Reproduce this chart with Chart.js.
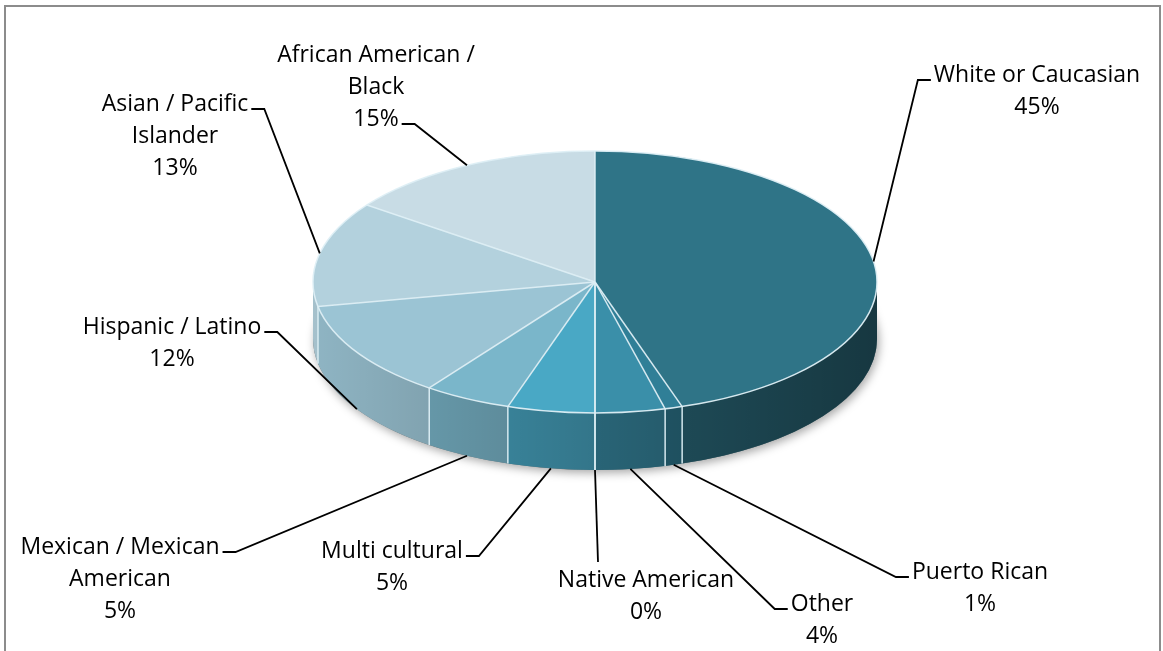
<!DOCTYPE html>
<html>
<head>
<meta charset="utf-8">
<title>Ethnicity</title>
<script src="https://cdn.jsdelivr.net/npm/chart.js@4.4.1/dist/chart.umd.min.js"></script>
<style>
    html, body { margin: 0; padding: 0; background: #fff; }
    #wrap { position: relative; width: 1163px; height: 651px; overflow: hidden; }
    #frame { position: absolute; left: 4px; top: 5px; width: 1153px; height: 700px; border: 2px solid #8c8c8c; border-bottom: none; }
    canvas { position: absolute; left: 0; top: 0; }
</style>
</head>
<body>
<div id="wrap">
    <div id="frame"></div>
    <canvas id="pieChart" width="1163" height="651"></canvas>
</div>
<script>
// Ethnicity breakdown, clockwise from 12 o'clock
const categories = [
    'White or Caucasian',
    'Puerto Rican',
    'Other',
    'Native American',
    'Multi cultural',
    'Mexican / Mexican American',
    'Hispanic / Latino',
    'Asian / Pacific Islander',
    'African American / Black'
];
const percentages = [45, 1, 4, 0, 5, 5, 12, 13, 15];
const sliceColors = ['#2f7487', '#307f97', '#3a8fa9', '#4299b5', '#49a8c5', '#7ab6ca', '#9bc4d4', '#b3d1dd', '#c8dce5'];

// label placement: text centre of first line, wrap width,
// which side / line the leader tick attaches to
const labelLayout = [
    { x: 1037, y: 75,  wrap: 260, side: 'left',  line: 0 },
    { x: 980,  y: 572, wrap: 200, side: 'left',  line: 0 },
    { x: 822,  y: 604, wrap: 200, side: 'left',  line: 0 },
    { x: 646,  y: 580, wrap: 240, side: 'none',  line: 0, ex: 598, ey: 562 },
    { x: 392,  y: 551, wrap: 200, side: 'right', line: 0 },
    { x: 120,  y: 547, wrap: 225, side: 'right', line: 0 },
    { x: 172,  y: 327, wrap: 240, side: 'right', line: 0 },
    { x: 175,  y: 104, wrap: 180, side: 'right', line: 0 },
    { x: 376,  y: 55,  wrap: 230, side: 'right', line: 2 }
];

const tilt = 131 / 282;   // vertical squash of the top face
const depth = 57;         // thickness of the pie
const edgeColor = 'rgba(222, 239, 246, 0.95)';
const labelFont = '23px "Open Sans"';
const lineGap = 32;
const tickLen = 13;

function wrapText(ctx, text, maxWidth) {
    const words = text.split(' ');
    const lines = [];
    let cur = '';
    words.forEach(w => {
        const test = cur ? cur + ' ' + w : w;
        if (cur && ctx.measureText(test).width > maxWidth) {
            lines.push(cur);
            cur = w;
        } else {
            cur = test;
        }
    });
    lines.push(cur);
    return lines;
}

const pie3d = {
    id: 'pie3d',
    beforeDatasetsDraw(chart) {
        const ctx = chart.ctx;
        const arcs = chart.getDatasetMeta(0).data;
        const { x, y, outerRadius: rx } = arcs[0];
        const ry = rx * tilt;

        // soft shadow under the base
        ctx.save();
        ctx.shadowColor = 'rgba(0,0,0,0.35)';
        ctx.shadowBlur = 10;
        ctx.shadowOffsetX = 2;
        ctx.shadowOffsetY = 3;
        ctx.fillStyle = '#6d6d6d';
        ctx.beginPath();
        ctx.ellipse(x, y + depth, rx, ry, 0, 0, Math.PI * 2);
        ctx.fill();
        ctx.restore();

        // front walls, darker towards the right
        const shade = ctx.createLinearGradient(x - rx, 0, x + rx, 0);
        shade.addColorStop(0, 'rgba(0,0,0,0.08)');
        shade.addColorStop(1, 'rgba(0,0,0,0.52)');
        arcs.forEach((arc, i) => {
            const a1 = Math.max(arc.startAngle, 0);
            const a2 = Math.min(arc.endAngle, Math.PI);
            if (a2 <= a1) return;
            ctx.beginPath();
            ctx.ellipse(x, y, rx, ry, 0, a1, a2);
            ctx.ellipse(x, y + depth, rx, ry, 0, a2, a1, true);
            ctx.closePath();
            ctx.fillStyle = sliceColors[i];
            ctx.fill();
            ctx.fillStyle = shade;
            ctx.fill();
        });

        // wall seams
        ctx.strokeStyle = edgeColor;
        ctx.lineWidth = 1.5;
        arcs.forEach(arc => {
            const a = arc.startAngle;
            if (a > 0 && a < Math.PI) {
                const px = x + rx * Math.cos(a);
                const py = y + ry * Math.sin(a);
                ctx.beginPath();
                ctx.moveTo(px, py);
                ctx.lineTo(px, py + depth);
                ctx.stroke();
            }
        });

        // squash the slices into the top face
        ctx.save();
        ctx.translate(x, y);
        ctx.scale(1, tilt);
        ctx.translate(-x, -y);
    },
    afterDatasetsDraw(chart) {
        const ctx = chart.ctx;
        ctx.restore();
        const arcs = chart.getDatasetMeta(0).data;
        const { x, y, outerRadius: rx } = arcs[0];
        const ry = rx * tilt;

        // slice edges and rim on the top face
        ctx.strokeStyle = edgeColor;
        ctx.lineWidth = 1.5;
        arcs.forEach(arc => {
            const a = arc.startAngle;
            ctx.beginPath();
            ctx.moveTo(x, y);
            ctx.lineTo(x + rx * Math.cos(a), y + ry * Math.sin(a));
            ctx.stroke();
        });
        ctx.beginPath();
        ctx.ellipse(x, y, rx, ry, 0, 0, Math.PI * 2);
        ctx.stroke();

        // data labels with leader lines
        ctx.font = labelFont;
        ctx.textAlign = 'center';
        ctx.textBaseline = 'middle';
        arcs.forEach((arc, i) => {
            const lay = labelLayout[i];
            const lines = wrapText(ctx, categories[i], lay.wrap);
            lines.push(percentages[i] + '%');

            // where the leader meets the label
            let ex = lay.ex, ey = lay.ey, tx = lay.ex;
            if (lay.side !== 'none') {
                const w = ctx.measureText(lines[lay.line]).width;
                ey = lay.y + lay.line * lineGap + 5;
                if (lay.side === 'right') {
                    tx = lay.x + w / 2 + 3;
                    ex = tx + tickLen;
                } else {
                    tx = lay.x - w / 2 - 3;
                    ex = tx - tickLen;
                }
            }

            const mid = (arc.startAngle + arc.endAngle) / 2;
            const sx = x + rx * Math.cos(mid);
            let sy = y + ry * Math.sin(mid);
            if (Math.sin(mid) > 0) sy += depth;

            ctx.strokeStyle = '#000';
            ctx.lineWidth = 1.8;
            ctx.beginPath();
            ctx.moveTo(sx, sy);
            ctx.lineTo(ex, ey);
            ctx.lineTo(tx, ey);
            ctx.stroke();

            ctx.fillStyle = '#000';
            lines.forEach((t, j) => ctx.fillText(t, lay.x, lay.y + j * lineGap));
        });
    }
};

const ctx = document.getElementById('pieChart').getContext('2d');
const pieChart = new Chart(ctx, {
    type: 'pie',
    data: {
        labels: categories,
        datasets: [{
            data: percentages,
            backgroundColor: sliceColors,
            borderWidth: 0,
            radius: 282,
            clip: false
        }]
    },
    options: {
        responsive: false,
        animation: false,
        layout: {
            padding: { left: 313, right: 286, top: 0, bottom: 87 }
        },
        plugins: {
            legend: { display: false },
            tooltip: { enabled: false }
        }
    },
    plugins: [pie3d]
});
</script>
</body>
</html>
